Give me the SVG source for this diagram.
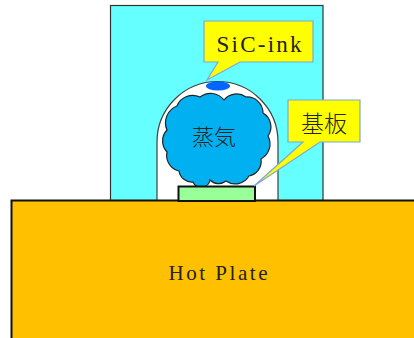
<svg xmlns="http://www.w3.org/2000/svg" width="414" height="338" viewBox="0 0 414 338">
  <style>
    .callout { fill: #FFFF00; stroke: #7EA6D8; stroke-width: 1.2; stroke-linejoin: miter; }
    .latin { font-family: "Liberation Serif", "DejaVu Serif", serif; fill: #222; }
    .cjk { font-family: "Noto Sans CJK JP", "Noto Sans CJK SC", sans-serif; fill: #222; font-weight: 300; }
  </style>
  <rect width="414" height="338" fill="#FFFFFF"/>

  <!-- chamber enclosure -->
  <g id="chamber">
    <rect x="110.5" y="5.5" width="212.5" height="196" fill="#66FFFF" stroke="#333333" stroke-width="1.2"/>
  </g>

  <!-- glass dome -->
  <g id="dome">
    <path d="M157,201 V142 A60.5,60.5 0 0 1 278,142 V201" fill="#FFFFFF" stroke="#404040" stroke-width="1.2"/>
  </g>

  <!-- vapour cloud -->
  <g id="vapor">
    <path d="M167,130 A18,18 0 0 1 177,106 A17,17 0 0 1 200,97 A17,17 0 0 1 224,100 A16,16 0 0 1 246,97 A16,16 0 0 1 263,113 A16,16 0 0 1 268,136 A17,17 0 0 1 261,159 A15,15 0 0 1 249,176 A16,16 0 0 1 226,181 A12,12 0 0 1 210,180 A9,9 0 0 1 193,182 A13,13 0 0 1 179,171 A16,16 0 0 1 167,152 A16,16 0 0 1 167,130 Z" fill="#00B0F0" stroke="#222222" stroke-width="1.2"/>
    <text class="cjk" x="214" y="145" font-size="22" text-anchor="middle">蒸気</text>
  </g>

  <!-- SiC ink drop -->
  <g id="ink">
    <ellipse cx="218" cy="86" rx="12" ry="4.5" fill="#0066FF"/>
  </g>

  <!-- hot plate -->
  <g id="hotplate">
    <rect x="11.5" y="200.5" width="410" height="150" fill="#FFC000" stroke="#111111" stroke-width="2"/>
    <text class="latin" x="218" y="280" font-size="21" text-anchor="middle" textLength="99" lengthAdjust="spacing">Hot Plate</text>
  </g>

  <!-- substrate -->
  <g id="substrate">
    <rect x="178.5" y="186.5" width="76.5" height="14.5" fill="#99FF99" stroke="#111111" stroke-width="2"/>
  </g>

  <!-- callout labels -->
  <g id="label-sic">
    <path class="callout" d="M204,21 H313 V62 H240 L207,80 L218,62 H204 Z"/>
    <text class="latin" x="259" y="52" font-size="23" text-anchor="middle" textLength="85" lengthAdjust="spacing">SiC-ink</text>
  </g>
  <g id="label-substrate">
    <path class="callout" d="M288,100 H360 V142 H320 L254,186 L303,142 H288 Z"/>
    <text class="cjk" x="324" y="132" font-size="23" text-anchor="middle">基板</text>
  </g>
</svg>
